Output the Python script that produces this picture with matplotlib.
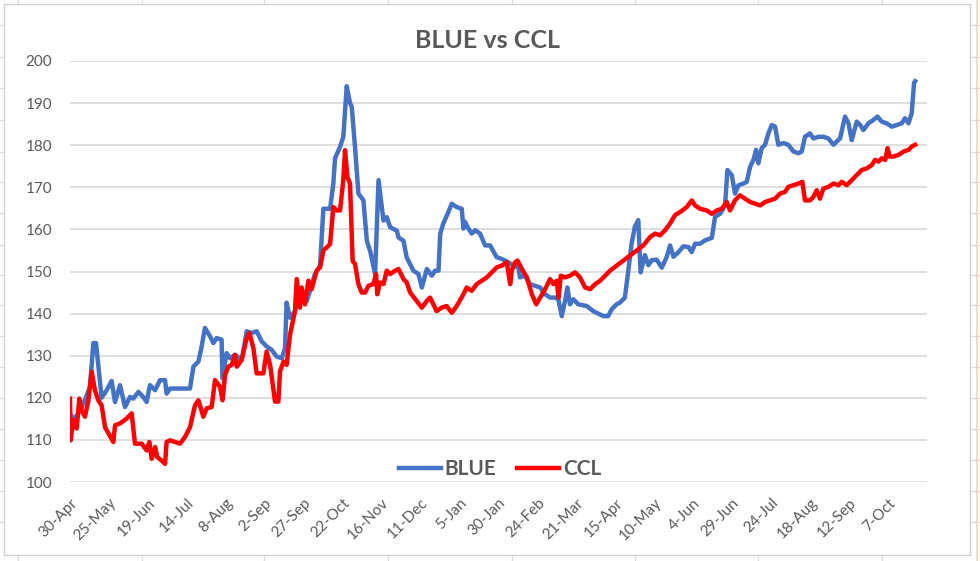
import matplotlib
matplotlib.use("Agg")
import matplotlib.pyplot as plt
from matplotlib.lines import Line2D
from matplotlib.patches import Rectangle

# days since 30-Apr-2020
blue_day = [0, 3, 6.4, 9.6, 12.8, 15, 16.7, 20.3, 23.5, 26.7, 28.9, 32.1, 35.3, 38.5, 40.6, 43.9,
            47, 49.2, 51.3, 54.6, 57.8, 61, 62, 64.2, 77, 79.2, 82.4, 84.5, 86.6, 89.9, 92, 94.1,
            97.3, 97.8, 100.5, 102.7, 105.9, 110.2, 113.4, 116.6, 119.8, 123, 126.2, 129.4, 132.6,
            135.9, 138, 139, 141.2, 144.4, 146.6, 149.8, 151.9, 154, 157.2, 160.5, 162.6, 166.9,
            169, 170.1, 173.3, 175.4, 177.6, 179.7, 180.8, 182.9, 185.1, 188.3, 190.5, 192.6,
            195.8, 198, 201.2, 203.3, 205.5, 209.8, 210.8, 214, 216.1, 220.4, 223.6, 225.8, 229,
            232.2, 234.3, 236.5, 237.6, 239.6, 242.8, 245, 248.2, 251.4, 252.5, 253.5, 255.7,
            257.8, 260, 263.2, 266.4, 269.6, 273.8, 277, 281.3, 284.5, 287.7, 288.8, 292, 295.2,
            298.5, 301.7, 304.9, 308.1, 311.3, 313.4, 315.6, 317.7, 319.2, 320.9, 323, 326.2,
            331.6, 335.8, 342.2, 345.4, 347.6, 350.8, 352.9, 356.1, 358.3, 360.4, 362.5, 364.7,
            366.2, 369, 371.2, 373.3, 376.5, 379.8, 383, 385.1, 387.3, 390.5, 393.7, 396.9, 399,
            401.2, 404.4, 407.6, 411.9, 414, 417.2, 420.4, 421.9, 424.7, 426.8, 429, 432.2, 434.3,
            436.5, 438.6, 440.3, 441.8, 443.9, 446.1, 448.2, 450.4, 452.5, 454.6, 457.8, 461,
            464.3, 467.5, 469.6, 471.7, 474.9, 477.1, 480.3, 483.5, 486.7, 490, 492.1, 494.2,
            497.4, 499.6, 501.7, 504.9, 507.1, 509.2, 512.4, 515.6, 518.2, 520.9, 524.1, 527.4,
            530.6, 533.8, 535.9, 538.1, 540.2, 541.7, 542.4]
blue_val = [116, 115, 117, 119.5, 122.6, 133, 133, 120, 121.8, 124, 119, 123, 117.8, 120.2, 119.8, 121.4,
            120.2, 119, 123, 121.8, 124.2, 124.2, 121, 122.2, 122.2, 127.4, 128.6, 132.2, 136.6, 134.6, 133, 134.2,
            133.8, 124.6, 130.6, 129.4, 130.2, 129, 135.8, 135.4, 135.8, 133.4, 132.2, 131.4, 129.8,
            129.4, 131.8, 142.6, 139, 140.6, 145.4, 143.8, 143, 145.4, 149.4, 151.4, 164.9, 164.9,
            170.9, 176.9, 179.6, 182, 194, 190, 189.2, 179.6, 168.5, 166.9, 157.3, 154.9,
            149.4, 171.7, 162.1, 162.9, 160.5, 159.7, 158.1, 157.3, 153.3, 150.2, 149.4, 146.2, 150.6,
            149, 150.2, 150.2, 159, 161.4, 164.1, 166.1, 165.3, 164.9, 160.2, 161.8, 160.2,
            159, 159.8, 159, 156.2, 156.2, 153.4, 153, 152.2, 151.4, 151, 148.6, 149, 147,
            146.6, 146.2, 144.6, 143.8, 143.8, 143.4, 139.4, 143, 146.2, 142.2, 143.4, 142.2,
            141.8, 140.6, 139.4, 139.4, 141, 142.2, 142.6, 143.8, 150.2, 156.6, 160.6, 162.2,
            149.8, 153.9, 151.5, 152.7, 152.8, 150.9, 153.5, 156.2, 153.5, 154.6, 156, 155.8, 154.6,
            156.6, 156.6, 157.4, 158, 163, 163.7, 165.7, 174.1, 172.9, 168.5, 170.5, 170.9, 171.3,
            174.9, 176.5, 178.9, 175.7, 179.3, 180.1, 182.8, 184.8, 184.4, 180.1, 180.5, 180.1,
            178.5, 178.1, 178.5, 182, 182.8, 181.6, 182, 182, 181.6, 180.1, 180.9, 181.6,
            186.8, 185.2, 181.2, 185.6, 184.8, 183.6, 185.2, 186, 186.8, 185.6, 185.2, 184.4,
            184.8, 185.2, 186.4, 185.2, 187.6, 194.8, 195.2]

ccl_day = [0, 0.4, 2.1, 4.3, 6, 7.5, 9.6, 11.8, 13.9, 16, 18.2, 20.3, 22.5, 27.8, 28.9, 32.1, 36.4,
           39.6, 41.7, 46, 49.2, 50.9, 52.4, 54.6, 56, 58.8, 61, 62, 64.2, 67.4, 70.6, 73.8, 77,
           80.2, 82.4, 85.6, 87.7, 90.9, 93.1, 96.3, 97.9, 99.5, 101.6, 103.8, 105.9, 107, 110.2,
           113.4, 115.1, 117.7, 119.8, 124.1, 126.2, 128.4, 131.6, 133.7, 134.8, 137, 139, 141.2,
           144.4, 145.5, 147.6, 148.7, 150.8, 153, 155.1, 158.3, 160.5, 162.6, 164.7, 166.9, 169,
           171.2, 173.3, 175.4, 176.5, 178, 179.7, 181.4, 182.9, 185.1, 187.2, 189.4, 191.5, 194.7,
           196.4, 197.2, 198.9, 201.2, 203.3, 205.5, 208.7, 210.8, 214, 216.1, 218.3, 222.5, 225.8,
           229, 231.1, 233.2, 235.3, 238.5, 241.7, 245, 248.2, 252.5, 254.6, 257.8, 261, 264.3,
           267.5, 270.7, 273.9, 277.1, 280.3, 282.5, 283.5, 285.7, 287.2, 290, 293.2, 296.4, 299.2,
           301.7, 304.9, 308.1, 310.3, 312.4, 313.5, 315, 317.7, 320.9, 324.1, 327.3, 330.6, 333.8,
           337, 340.2, 343.4, 346.6, 350.9, 355.2, 359.4, 363.7, 368, 372.3, 375.5, 378.7, 381.9,
           385.1, 388.3, 391.5, 395.8, 399, 401.2, 404.4, 408.7, 411.9, 415.1, 418.3, 421.5, 423.6,
           426.8, 430, 433.3, 436.5, 439.7, 442.9, 446.1, 449.3, 452.5, 455.7, 458.9, 461, 464.3,
           467.5, 470, 471.7, 474.9, 477.1, 479.2, 481.3, 483.5, 486.7, 490, 493.2, 495.3, 498.5,
           501.7, 504.9, 508.1, 511.4, 514.6, 516.7, 518.9, 521, 523.2, 524.7, 526, 528.5, 531.7,
           535, 538.2, 540.3, 542.4]
ccl_val = [119.8, 109.9, 114.7, 112.7, 119.8, 117, 115.5, 119.4, 126.2, 121.8, 119.4, 118.2, 113, 109.5, 113.5, 113.9, 115.1,
           116.3, 109.1, 109.1, 107.5, 109.5, 105.5, 108.3, 105.9, 105.1, 104.3, 109.5, 109.9, 109.5, 109.1, 110.7, 113,
           118.2, 119.4, 115.5, 117.5, 117.8, 124.2, 122.6, 119.4, 125.4, 127.4, 127.8, 130.2, 127.4, 129,
           134.2, 135.4, 131.8, 125.8, 125.8, 131, 127.8, 119.1, 119.1, 126.3, 128.6, 127.8, 135,
           140.6, 148.2, 141.4, 146.2, 142.2, 147.8, 145.8, 150.2, 151, 155, 155.7, 156.5, 165.3,
           164.5, 164.5, 171.7, 178.8, 172.5, 170.9, 152.5, 151.8, 147, 145, 145, 146.6, 147,
           149.4, 144.6, 147.4, 147, 150.2, 149.4, 150.2, 150.6, 148.2, 147.4, 145, 143, 141.4,
           143, 143.8, 142.2, 140.6, 141.4, 141.8, 140.2, 141.8, 144.6, 146.2, 145.4, 147, 147.8,
           148.6, 149.8, 151, 151.4, 152.2, 147, 150.2, 152.2, 152.6, 150.6, 148.6, 144.6, 142.2,
           143.8, 145.8, 148.2, 147, 147.8, 143.8, 149, 148.6, 149, 149.8, 148.6, 146.2, 145.8,
           147, 147.8, 149, 150.2, 151.4, 152.6, 153.8, 155, 156.2, 158.2, 159, 158.6, 159.8,
           161.4, 163.4, 164.1, 165.3, 166.9, 165.7, 164.9, 164.5, 163.7, 164.5, 164.9, 166.5, 164.5,
           166.9, 168.1, 167.3, 166.5, 166.1, 165.7, 166.5, 166.9, 167.3, 168.5, 168.9, 170.1, 170.5,
           170.9, 171.3, 166.9, 166.9, 167.7, 169.3, 167.3, 169.7, 170.1, 170.9, 170.5, 171.3, 170.5,
           171.7, 172.9, 174.1, 174.5, 175.3, 176.5, 176.1, 176.9, 176.5, 179.3, 177.3, 177.3, 177.7,
           178.5, 178.9, 179.7, 180.1]

tick_day = [0, 25, 50, 75, 100, 125, 150, 175, 200, 225, 250, 275, 300, 325, 350, 375, 400, 425,
            450, 475, 500, 525]
tick_lab = ["30-Apr", "25-May", "19-Jun", "14-Jul", "8-Aug", "2-Sep", "27-Sep", "22-Oct", "16-Nov",
            "11-Dec", "5-Jan", "30-Jan", "24-Feb", "21-Mar", "15-Apr", "10-May", "4-Jun", "29-Jun",
            "24-Jul", "18-Aug", "12-Sep", "7-Oct"]
y_ticks = [100, 110, 120, 130, 140, 150, 160, 170, 180, 190, 200]

W, H = 980, 561
TXT = "#595959"
plt.rcParams['font.family'] = ['Lato', 'DejaVu Sans']

fig = plt.figure(figsize=(W / 100, H / 100), dpi=100)


def fx(x):
    return x / W


def fy(y):
    return 1 - y / H


# spreadsheet cells around the chart
cell = "#dcdcdc"
for x in [18, 142, 264, 388, 512, 635, 758, 882]:
    fig.add_artist(Line2D([fx(x), fx(x)], [fy(0), fy(4)], color=cell, lw=1))
    fig.add_artist(Line2D([fx(x), fx(x)], [fy(555), fy(561)], color=cell, lw=1))
for y in [25, 57, 88, 120, 152, 182, 213, 245, 275, 305, 336, 367, 398, 429, 460, 491, 522]:
    fig.add_artist(Line2D([fx(0), fx(4)], [fy(y), fy(y)], color=cell, lw=1))
    fig.add_artist(Line2D([fx(970), fx(980)], [fy(y), fy(y)], color=cell, lw=1))
fig.add_artist(Line2D([fx(977), fx(977)], [fy(0), fy(561)], color="#f3d3bd", lw=1.2))
fig.add_artist(Rectangle((fx(4), fy(555)), fx(966), 551 / H, fill=False,
                         edgecolor="#d0d0d0", lw=1, transform=fig.transFigure))

ax = fig.add_axes([fx(70), fy(482), (927 - 70) / W, (482 - 61) / H])
ax.plot(blue_day, blue_val, color="#4472C4", lw=3.2, solid_joinstyle="round", label="BLUE")
ax.plot(ccl_day, ccl_val, color="#FF0000", lw=3.2, solid_joinstyle="round", label="CCL")

ax.set_xlim(0, 550)
ax.set_ylim(100, 200)
ax.set_yticks(y_ticks)
ax.set_xticks(tick_day)
ax.set_xticklabels(tick_lab, rotation=45, ha="right", rotation_mode="anchor")
ax.yaxis.grid(True, color="#d9d9d9", lw=1.2)
ax.set_axisbelow(True)
for s in ax.spines.values():
    s.set_visible(False)
ax.tick_params(axis="y", length=0, pad=13, labelsize=11, labelcolor=TXT)
ax.tick_params(axis="x", length=0, pad=10, labelsize=11, labelcolor=TXT)

ax.legend(loc="center", bbox_to_anchor=(0.502, 0.031), ncol=2, frameon=False,
          handlelength=2.0, handletextpad=0.2, columnspacing=1.0,
          prop={"size": 15, "weight": "bold"}, labelcolor=TXT)

fig.text(fx(487), fy(40), "BLUE vs CCL", ha="center", va="center", fontsize=18,
         fontweight="bold", color=TXT)

fig.savefig("out.png", dpi=100)
